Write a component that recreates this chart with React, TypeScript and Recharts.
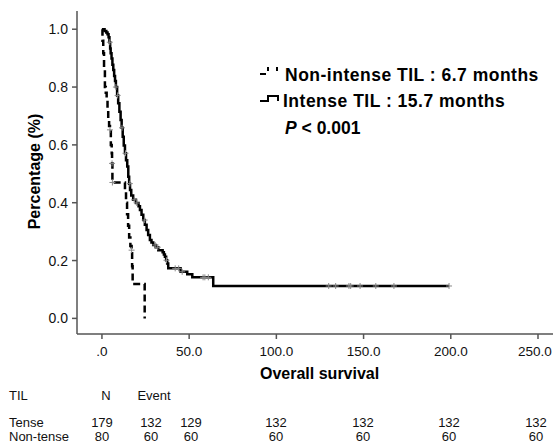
import React from "react";
import { ComposedChart, Line, Scatter, XAxis, YAxis } from "recharts";

// Kaplan-Meier step points (months, survival proportion)
const INTENSE_T = [0, 1.5, 2.5, 3.2, 3.8, 4.3, 4.7, 5.0, 5.5, 6.0, 6.5, 7.0, 7.5, 8.0, 8.7, 9.3, 10.0, 10.7, 11.3, 11.9, 12.5, 13.2, 13.8, 14.5, 15.1, 15.6, 16.1, 16.8, 17.9, 19.5, 21.0, 21.8, 22.7, 23.7, 24.6, 25.6, 26.5, 27.5, 28.4, 29.4, 30.8, 32.3, 34.8, 35.5, 36.1, 36.8, 37.4, 38.0, 45.1, 48.9, 51.8, 63.8, 199];
const INTENSE_S = [1.0, 0.994, 0.989, 0.983, 0.972, 0.955, 0.933, 0.917, 0.899, 0.877, 0.859, 0.838, 0.821, 0.8, 0.771, 0.744, 0.715, 0.686, 0.659, 0.628, 0.598, 0.571, 0.547, 0.525, 0.49, 0.466, 0.444, 0.425, 0.41, 0.399, 0.388, 0.375, 0.358, 0.34, 0.324, 0.306, 0.288, 0.271, 0.262, 0.254, 0.246, 0.236, 0.229, 0.221, 0.213, 0.201, 0.19, 0.173, 0.161, 0.153, 0.142, 0.112, 0.112];

const NON_T = [0, 0.3, 0.75, 1.2, 1.7, 2.2, 2.7, 3.2, 3.6, 4.1, 4.6, 5.1, 5.6, 5.8, 6.0, 13.2, 13.8, 14.4, 15.0, 15.6, 16.3, 17.0, 17.3, 17.6, 24.5];
const NON_S = [1.0, 0.96, 0.917, 0.86, 0.8, 0.78, 0.755, 0.72, 0.686, 0.665, 0.652, 0.6, 0.571, 0.536, 0.47, 0.44, 0.4, 0.36, 0.32, 0.28, 0.25, 0.236, 0.18, 0.119, 0.0];

// censored observations
const INTENSE_CENS_T = [4.5, 8.0, 9.0, 11.5, 13.5, 16.0, 18.5, 20.0, 24.5, 30.5, 32.0, 37.0, 42.0, 44.0, 46.0, 58.0, 59.0, 61.0, 130, 134, 141.6, 142.6, 148, 157, 167.4, 199];
const NON_CENS_T = [4.6, 5.8, 6.0, 17.0];
const NON_CENS_S = [0.652, 0.536, 0.47, 0.236];

const X_TICKS = [0, 50, 100, 150, 200, 250];
const Y_TICKS = [0, 0.2, 0.4, 0.6, 0.8, 1.0];

const TABLE_ROWS = ["Tense", "Non-tense"];
const TENSE_COUNTS = ["179", "132", "129", "132", "132", "132", "132"];
const NON_TENSE_COUNTS = ["80", "60", "60", "60", "60", "60", "60"];
const TABLE_COLS = [102, 151, 191, 276, 363, 449, 536];

const intenseData = INTENSE_T.map((t, i) => ({ t, s: INTENSE_S[i] }));
const nonData = NON_T.map((t, i) => ({ t, s: NON_S[i] }));

const stepAt = (t: number) => {
  let v = INTENSE_S[0];
  INTENSE_T.forEach((x, i) => {
    if (x <= t) v = INTENSE_S[i];
  });
  return v;
};
const intenseCens = INTENSE_CENS_T.map((t) => ({ t, s: stepAt(t) }));
const nonCens = NON_CENS_T.map((t, i) => ({ t, s: NON_CENS_S[i] }));

const FONT = "Arial, 'Liberation Sans', sans-serif";
const AXIS = "#555";

const Cross = (props: any) => {
  const { cx, cy } = props;
  return <path d={`M${cx - 3},${cy}H${cx + 3}M${cx},${cy - 3}V${cy + 3}`} stroke="#888" strokeWidth={1} />;
};

// keep the last tick label inside the picture
const XTick = (props: any) => {
  const { x, y, payload } = props;
  const v = payload.value;
  const label = v === 0 ? ".0" : Number(v).toFixed(1);
  return (
    <text x={Math.min(x, 535)} y={y + 12} textAnchor="middle" fontSize={13.5} fill="#111" fontFamily={FONT}>
      {label}
    </text>
  );
};

export default function App() {
  return (
    <div style={{ position: "absolute", left: 0, top: 0, width: 553, height: 446, background: "#fff" }}>
      <ComposedChart width={553} height={446} margin={{ top: 11, right: 0, left: 0, bottom: 82 }}>
        <XAxis
          type="number"
          dataKey="t"
          domain={[-14.3, 258.6]}
          allowDataOverflow
          ticks={X_TICKS}
          tick={<XTick />}
          tickSize={5}
          tickMargin={5}
          height={30}
          axisLine={{ stroke: AXIS, strokeWidth: 1.5 }}
          tickLine={{ stroke: AXIS, strokeWidth: 1.5 }}
        />
        <XAxis
          xAxisId="top"
          orientation="top"
          type="number"
          dataKey="t"
          domain={[-14.3, 258.6]}
          tick={false}
          tickLine={false}
          height={0}
          axisLine={{ stroke: AXIS, strokeWidth: 1.5 }}
        />
        <YAxis
          type="number"
          domain={[-0.054, 1.063]}
          allowDataOverflow
          ticks={Y_TICKS}
          tickFormatter={(v) => Number(v).toFixed(1)}
          tick={{ fontSize: 14, fill: "#111", fontFamily: FONT }}
          tickSize={5}
          tickMargin={4}
          width={77}
          axisLine={{ stroke: AXIS, strokeWidth: 1.5 }}
          tickLine={{ stroke: AXIS, strokeWidth: 1.5 }}
        />
        <Line
          data={nonData}
          dataKey="s"
          type="stepAfter"
          stroke="#000"
          strokeWidth={2.5}
          strokeDasharray="7 4"
          dot={false}
          isAnimationActive={false}
        />
        <Line
          data={intenseData}
          dataKey="s"
          type="stepAfter"
          stroke="#000"
          strokeWidth={2.5}
          dot={false}
          isAnimationActive={false}
        />
        <Scatter data={intenseCens} dataKey="s" shape={Cross} isAnimationActive={false} />
        <Scatter data={nonCens} dataKey="s" shape={Cross} isAnimationActive={false} />
      </ComposedChart>
      <svg
        width={553}
        height={446}
        style={{ position: "absolute", left: 0, top: 0, pointerEvents: "none" }}
        fontFamily={FONT}
      >
        <text
          transform="translate(34,171.5) rotate(-90)"
          textAnchor="middle"
          dominantBaseline="central"
          fontSize={16}
          fontWeight="bold"
        >
          Percentage (%)
        </text>
        {/* legend */}
        <path d="M260,74H266" stroke="#000" strokeWidth={2} />
        <path d="M268,67V71M277,67V71" stroke="#000" strokeWidth={2} />
        <text x={285} y={80.7} fontSize={17.5} fontWeight="bold" letterSpacing={0.5}>
          Non-intense TIL : 6.7 months
        </text>
        <path d="M260,101H268V96H278V101" stroke="#000" strokeWidth={2} fill="none" />
        <text x={283} y={106.7} fontSize={17.5} fontWeight="bold" letterSpacing={0.5}>
          Intense TIL : 15.7 months
        </text>
        <text x={285} y={134} fontSize={17.5} fontWeight="bold">
          <tspan fontStyle="italic">P</tspan> &lt; 0.001
        </text>
        <text x={319.6} y={378.7} textAnchor="middle" fontSize={16} fontWeight="bold">
          Overall survival
        </text>
        {/* number-at-risk table */}
        <g fontSize={13} fill="#111">
          <text x={9} y={400}>TIL</text>
          <text x={106} y={400} textAnchor="middle">N</text>
          <text x={154} y={400} textAnchor="middle">Event</text>
          <text x={9} y={427}>{TABLE_ROWS[0]}</text>
          <text x={9} y={441}>{TABLE_ROWS[1]}</text>
          {TENSE_COUNTS.map((c, i) => (
            <text key={`t${i}`} x={TABLE_COLS[i]} y={427} textAnchor="middle">
              {c}
            </text>
          ))}
          {NON_TENSE_COUNTS.map((c, i) => (
            <text key={`n${i}`} x={TABLE_COLS[i]} y={441} textAnchor="middle">
              {c}
            </text>
          ))}
        </g>
      </svg>
    </div>
  );
}
